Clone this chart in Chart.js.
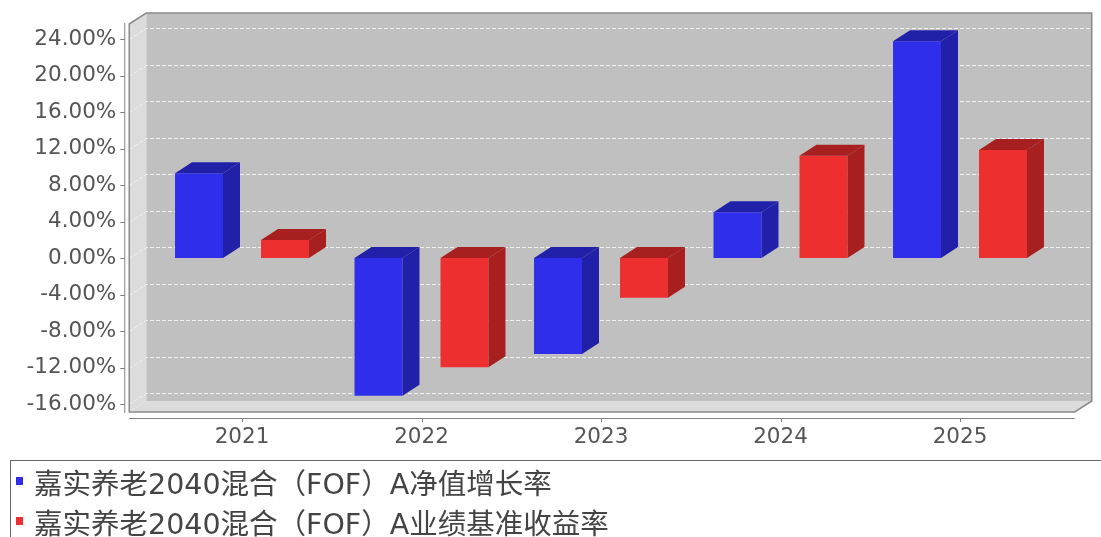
<!DOCTYPE html>
<html>
<head>
<meta charset="utf-8">
<script src="https://cdn.jsdelivr.net/npm/chart.js@4.4.1/dist/chart.umd.min.js"></script>
<style>
    html, body { margin: 0; padding: 0; background: #fff; }
    #wrap { position: relative; width: 1101px; height: 537px; overflow: hidden; }
    #chart { position: absolute; left: 0; top: 0; }
    #legend {
        position: absolute; left: 10px; top: 460px; width: 1100px; height: 90px;
        border: 1px solid #666; box-sizing: border-box;
        font-family: "DejaVu Sans", "Noto Sans CJK SC", sans-serif; font-size: 28.5px; color: #444;
    }
    .item { position: absolute; left: 5px; height: 40px; display: flex; align-items: center; white-space: nowrap; }
    .sw { width: 7px; height: 8px; margin-right: 11px; }
</style>
</head>
<body>
<div id="wrap">
    <canvas id="chart" width="1101" height="537"></canvas>
    <div id="legend"></div>
</div>
<script>
const years = ["2021", "2022", "2023", "2024", "2025"];
const navGrowth = [9.30, -15.09, -10.52, 5.02, 23.78];
const benchmark = [1.99, -11.98, -4.34, 11.23, 11.86];
const yTicks = [-16, -12, -8, -4, 0, 4, 8, 12, 16, 20, 24];
const seriesNames = ["嘉实养老2040混合（FOF）A净值增长率", "嘉实养老2040混合（FOF）A业绩基准收益率"];
const frontColors = ["#2F2FEB", "#ED2F2F"];
const sideColors = ["#2020A8", "#A81F1F"];

// 3D look: depth offset of the back wall
const DX = 17, DY = 11;
const WALL_LEFT = 23, WALL_RIGHT = 25;
const tickFont = { family: "DejaVu Sans", size: 21.5 };

const wallsPlugin = {
    id: "walls",
    beforeDraw(chart) {
        const { ctx, chartArea } = chart;
        const yScale = chart.scales.y;
        const xScale = chart.scales.x;
        const fl = chartArea.left - WALL_LEFT;
        const fr = chartArea.right + WALL_RIGHT;
        const t = chartArea.top, b = chartArea.bottom;

        ctx.save();
        // back wall
        ctx.fillStyle = "#C0C0C0";
        ctx.fillRect(fl + DX, t - DY, fr - fl, b - t);
        // left wall
        ctx.fillStyle = "#DCDCDC";
        ctx.beginPath();
        ctx.moveTo(fl, t); ctx.lineTo(fl + DX, t - DY); ctx.lineTo(fl + DX, b - DY); ctx.lineTo(fl, b);
        ctx.closePath(); ctx.fill();
        // floor
        ctx.beginPath();
        ctx.moveTo(fl, b); ctx.lineTo(fl + DX, b - DY); ctx.lineTo(fr + DX, b - DY); ctx.lineTo(fr, b);
        ctx.closePath(); ctx.fill();

        // gridlines on back wall and left wall
        ctx.strokeStyle = "#F2F2F2";
        ctx.lineWidth = 1;
        ctx.setLineDash([4, 2]);
        yTicks.forEach(v => {
            const y = Math.round(yScale.getPixelForValue(v)) + 0.5;
            ctx.beginPath();
            ctx.moveTo(fl, y); ctx.lineTo(fl + DX, y - DY); ctx.lineTo(fr + DX, y - DY);
            ctx.stroke();
        });
        ctx.setLineDash([]);

        // outline
        ctx.strokeStyle = "#8A8A8A";
        ctx.lineWidth = 1.5;
        ctx.beginPath();
        ctx.moveTo(fl, t); ctx.lineTo(fl + DX, t - DY); ctx.lineTo(fr + DX, t - DY);
        ctx.lineTo(fr + DX, b - DY); ctx.lineTo(fr, b); ctx.lineTo(fl, b);
        ctx.closePath(); ctx.stroke();

        // axis lines and tick marks
        ctx.strokeStyle = "#808080";
        ctx.lineWidth = 1;
        ctx.beginPath();
        ctx.moveTo(fl - 4.5, t - 1); ctx.lineTo(fl - 4.5, b + 1);
        yTicks.forEach(v => {
            const y = Math.round(yScale.getPixelForValue(v)) + 0.5;
            ctx.moveTo(fl - 9, y); ctx.lineTo(fl - 4.5, y);
        });
        ctx.moveTo(fl, b + 6.5); ctx.lineTo(fr, b + 6.5);
        years.forEach((_, i) => {
            const x = Math.round(xScale.getPixelForValue(i)) + 0.5;
            ctx.moveTo(x, b + 6.5); ctx.lineTo(x, b + 10);
        });
        ctx.stroke();
        ctx.restore();
    },
    afterDatasetsDraw(chart) {
        const { ctx } = chart;
        ctx.save();
        chart.data.datasets.forEach((ds, di) => {
            chart.getDatasetMeta(di).data.forEach(bar => {
                const p = bar.getProps(["x", "y", "base", "width"], true);
                const left = p.x - p.width / 2, right = p.x + p.width / 2;
                const top = Math.min(p.y, p.base), bottom = Math.max(p.y, p.base);
                ctx.fillStyle = sideColors[di];
                // top face
                ctx.beginPath();
                ctx.moveTo(left, top); ctx.lineTo(left + DX, top - DY);
                ctx.lineTo(right + DX, top - DY); ctx.lineTo(right, top);
                ctx.closePath(); ctx.fill();
                // side face
                ctx.beginPath();
                ctx.moveTo(right, top); ctx.lineTo(right + DX, top - DY);
                ctx.lineTo(right + DX, bottom - DY); ctx.lineTo(right, bottom);
                ctx.closePath(); ctx.fill();
            });
        });
        ctx.restore();
    }
};

const legend = document.getElementById("legend");
seriesNames.forEach((name, i) => {
    const row = document.createElement("div");
    row.className = "item";
    row.style.top = (i * 40) + "px";
    row.innerHTML = `<span class="sw" style="background:${frontColors[i]}"></span><span>${name}</span>`;
    legend.appendChild(row);
});

new Chart(document.getElementById("chart"), {
    type: "bar",
    data: {
        labels: years,
        datasets: [
            { label: seriesNames[0], data: navGrowth, backgroundColor: frontColors[0] },
            { label: seriesNames[1], data: benchmark, backgroundColor: frontColors[1] }
        ]
    },
    options: {
        responsive: false,
        devicePixelRatio: 1,
        animation: false,
        categoryPercentage: 0.958,
        barPercentage: 0.558,
        layout: { padding: { top: 24, right: 51.25, left: 0, bottom: 0 } },
        plugins: {
            legend: { display: false },
            tooltip: { enabled: false }
        },
        scales: {
            x: {
                grid: { display: false, drawTicks: false },
                border: { display: false },
                ticks: { font: tickFont, color: "#555", padding: 13, maxRotation: 0 },
                afterFit: s => { s.height = 125; }
            },
            y: {
                min: -16.88,
                max: 25.68,
                grid: { display: false, drawTicks: false },
                border: { display: false },
                ticks: {
                    font: tickFont,
                    color: "#555",
                    padding: 36,
                    callback: v => v.toFixed(2) + "%"
                },
                afterBuildTicks: s => { s.ticks = yTicks.map(v => ({ value: v })); },
                afterFit: s => {
                    s.width = 152.25;
                    s.paddingTop = 0;
                    s.paddingBottom = 0;
                }
            }
        }
    },
    plugins: [wallsPlugin]
});
</script>
</body>
</html>
